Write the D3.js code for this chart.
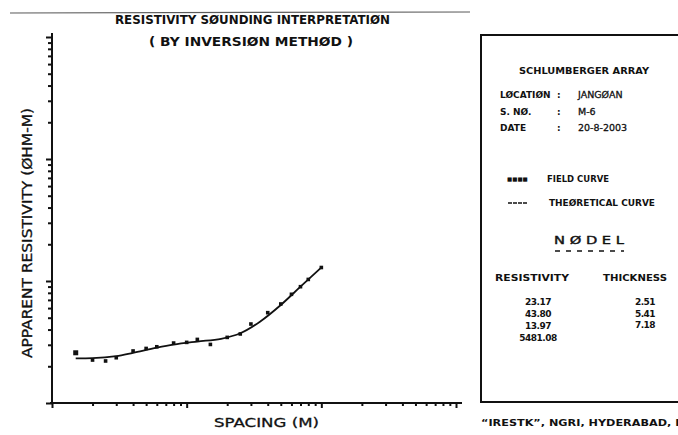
<!DOCTYPE html>
<html>
<head>
<meta charset="utf-8">
<script src="https://cdn.jsdelivr.net/npm/d3@7"></script>
<style>
body { margin: 0; background: #fff; }
text { font-family: "DejaVu Sans", sans-serif; fill: #111; }
</style>
</head>
<body>
<div id="chart"></div>
<script>
// field data: AB/2 spacing (m) and apparent resistivity (ohm-m)
var spacing = [1.5, 2, 2.5, 3, 4, 5, 6, 8, 10, 12, 15, 20, 25, 30, 40, 50, 60, 70, 80, 100];
var fieldRho = [25.8, 22.5, 22.1, 23.5, 26.7, 28.0, 28.9, 31.0, 31.4, 33.2, 30.2, 34.5, 36.8, 44.4, 55.0, 64.8, 77.8, 89.8, 103, 129];

// theoretical (model) curve
var theorySpacing = [1.5, 2, 3, 4, 6, 8, 12, 18, 25, 35, 50, 70, 100];
var theoryRho = [23.2, 23.3, 24.2, 25.8, 28.4, 30.1, 31.9, 33.6, 37.3, 46.4, 63.6, 89.8, 129];

// model table
var modelRes = ["23.17", "43.80", "13.97", "5481.08"];
var modelThk = ["2.51", "5.41", "7.18"];

var info = [
    ["LØCATIØN", "JANGØAN"],
    ["S. NØ.", "M-6"],
    ["DATE", "20-8-2003"]
];

var width = 678;
var height = 435;
var plot = {left: 52, right: 456, top: 37, bottom: 403};

var svg = d3.select("#chart").append("svg").attr("width", width).attr("height", height);

// scan smudge line at the top
svg.append("line").attr("x1", 10).attr("x2", 470).attr("y1", 13).attr("y2", 12)
    .attr("stroke", "#333").attr("stroke-width", 1.2).attr("opacity", 0.8);

var xscale = d3.scaleLog().domain([1, 1000]).range([plot.left, plot.right]);
var yscale = d3.scaleLog().domain([10, 10000]).range([plot.bottom, plot.top]);

function isDecade(d) {
    var l = Math.log10(d);
    return Math.abs(l - Math.round(l)) < 1e-6;
}

// x axis
var xaxis = d3.axisBottom(xscale).tickFormat("").tickSizeOuter(0).tickSize(3);
var gx = svg.append("g")
    .attr("transform", "translate(0," + plot.bottom + ")")
    .call(xaxis);
gx.select(".domain").attr("stroke", "#111").attr("stroke-width", 2)
    .attr("d", "M" + (plot.left - 2) + ",0H" + (plot.right + 6));
gx.selectAll(".tick line").attr("stroke", "#111").attr("stroke-width", 2)
    .attr("y2", function(d) { return isDecade(d) ? 5 : 3; });

// y axis
var yaxis = d3.axisLeft(yscale).tickFormat("").tickSizeOuter(0).tickSize(3);
var gy = svg.append("g")
    .attr("transform", "translate(" + plot.left + ",0)")
    .call(yaxis);
gy.select(".domain").attr("stroke", "#111").attr("stroke-width", 2)
    .attr("d", "M0," + (plot.top - 4) + "V" + (plot.bottom + 1));
gy.selectAll(".tick line").attr("stroke", "#111").attr("stroke-width", 2)
    .attr("x2", function(d) { return isDecade(d) ? -6 : -4; });

// theoretical curve
var line = d3.line()
    .x(function(d, i) { return xscale(theorySpacing[i]); })
    .y(function(d) { return yscale(d); })
    .curve(d3.curveMonotoneX);
svg.append("path").datum(theoryRho)
    .attr("d", line)
    .attr("fill", "none").attr("stroke", "#111").attr("stroke-width", 1.8);

// field points
svg.selectAll(".pt").data(fieldRho).enter().append("rect")
    .attr("class", "pt")
    .attr("x", function(d, i) { return xscale(spacing[i]) - (i === 0 ? 2.5 : 1.8); })
    .attr("y", function(d, i) { return yscale(d) - (i === 0 ? 2.5 : 1.8); })
    .attr("width", function(d, i) { return i === 0 ? 5 : 3.6; })
    .attr("height", function(d, i) { return i === 0 ? 5 : 3.6; })
    .attr("fill", "#111");

// titles
svg.append("text").text("RESISTIVITY SØUNDING INTERPRETATIØN")
    .attr("x", 115).attr("y", 24).attr("textLength", 275).attr("lengthAdjust", "spacingAndGlyphs")
    .style("font-size", "11.5px").style("font-weight", "bold");
svg.append("text").text("( BY INVERSIØN METHØD )")
    .attr("x", 149).attr("y", 46).attr("textLength", 204).attr("lengthAdjust", "spacingAndGlyphs")
    .style("font-size", "11.5px").style("font-weight", "bold");

// axis titles
svg.append("text").text("APPARENT RESISTIVITY (ØHM-M)")
    .attr("transform", "translate(32,358) rotate(-90)")
    .attr("textLength", 250).attr("lengthAdjust", "spacingAndGlyphs")
    .style("font-size", "14px").style("stroke", "#111").style("stroke-width", 0.3);
svg.append("text").text("SPACING (M)")
    .attr("x", 214).attr("y", 427).attr("textLength", 105).attr("lengthAdjust", "spacingAndGlyphs")
    .style("font-size", "13px").style("stroke", "#111").style("stroke-width", 0.3);

// info box
svg.append("rect").attr("x", 481).attr("y", 35).attr("width", 220).attr("height", 367)
    .attr("fill", "none").attr("stroke", "#111").attr("stroke-width", 2);

var box = svg.append("g").style("font-weight", "bold").style("font-size", "9px");

box.append("text").text("SCHLUMBERGER ARRAY")
    .attr("x", 519).attr("y", 74).attr("textLength", 130).attr("lengthAdjust", "spacingAndGlyphs");

info.forEach(function(r, i) {
    var y = 98 + i * 16.5;
    box.append("text").text(r[0]).attr("x", 500).attr("y", y);
    box.append("text").text(":").attr("x", 557).attr("y", y);
    box.append("text").text(r[1]).attr("x", 578).attr("y", y).style("font-size", "9.5px").style("font-weight", "normal")
        .style("stroke", "#111").style("stroke-width", 0.3);
});

// legend
box.append("text").text("■■■■").attr("x", 507).attr("y", 181).style("font-size", "5.5px");
box.append("text").text("FIELD CURVE").attr("x", 547).attr("y", 182)
    .attr("textLength", 62).attr("lengthAdjust", "spacingAndGlyphs");
box.append("line").attr("x1", 508).attr("x2", 528).attr("y1", 203).attr("y2", 203)
    .attr("stroke", "#111").attr("stroke-width", 1.6).attr("stroke-dasharray", "4,1");
box.append("text").text("THEØRETICAL CURVE").attr("x", 549).attr("y", 206)
    .attr("textLength", 106).attr("lengthAdjust", "spacingAndGlyphs");

// model table
box.append("text").text("N Ø D E L").attr("x", 554).attr("y", 244)
    .attr("textLength", 70).attr("lengthAdjust", "spacingAndGlyphs").style("font-size", "11px").style("font-weight", "normal")
    .style("stroke", "#111").style("stroke-width", 0.4);
box.append("line").attr("x1", 555).attr("x2", 624).attr("y1", 251).attr("y2", 251)
    .attr("stroke", "#111").attr("stroke-width", 1.6).attr("stroke-dasharray", "5,6");
box.append("text").text("RESISTIVITY").attr("x", 495).attr("y", 281)
    .attr("textLength", 74).attr("lengthAdjust", "spacingAndGlyphs");
box.append("text").text("THICKNESS").attr("x", 603).attr("y", 281)
    .attr("textLength", 64).attr("lengthAdjust", "spacingAndGlyphs");

modelRes.forEach(function(v, i) {
    box.append("text").text(v).attr("x", 538).attr("y", 305 + i * 12)
        .attr("text-anchor", "middle").style("letter-spacing", "-0.5px");
});
modelThk.forEach(function(v, i) {
    box.append("text").text(v).attr("x", 645).attr("y", 305 + i * 11.5)
        .attr("text-anchor", "middle").style("letter-spacing", "-0.5px");
});

// footer
svg.append("text").text("\u201CIRESTK\u201D, NGRI, HYDERABAD, INDIA")
    .attr("x", 481).attr("y", 426).attr("textLength", 230).attr("lengthAdjust", "spacingAndGlyphs")
    .style("font-size", "9px").style("font-weight", "bold");
</script>
</body>
</html>
